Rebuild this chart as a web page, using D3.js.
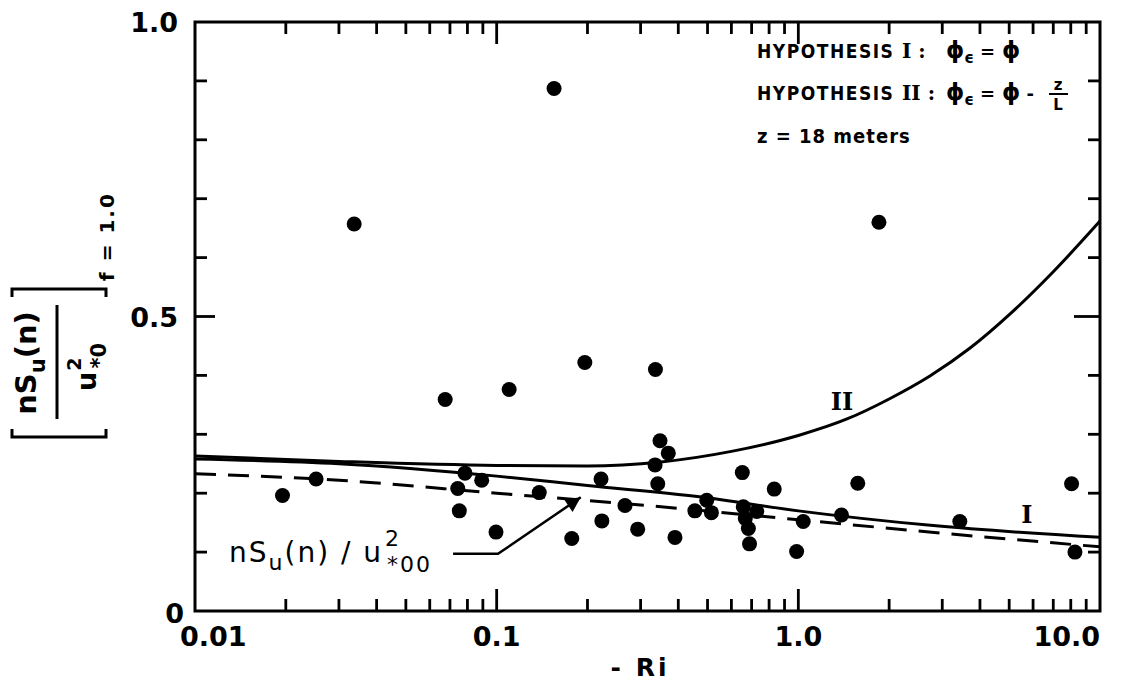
<!DOCTYPE html>
<html>
<head>
<meta charset="utf-8">
<title>Spectral estimate vs -Ri</title>
<script src="https://cdn.jsdelivr.net/npm/d3@7"></script>
<style>
    body { margin: 0; background: #fff; }
    text { font-family: "DejaVu Sans", sans-serif; fill: #000; }
    .bold { font-weight: bold; }
    .cond { font-family: "DejaVu Sans Condensed", "DejaVu Sans", sans-serif; font-weight: bold; }
    .roman { font-family: "DejaVu Serif", serif; font-weight: bold; }
</style>
</head>
<body>
<script>
var negRi = [0.0195, 0.0252, 0.0337, 0.0675, 0.0743, 0.0752, 0.0785, 0.0892, 0.0995, 0.110,
             0.1384, 0.155, 0.1774, 0.196, 0.2218, 0.2232, 0.2663, 0.2934, 0.336, 0.335,
             0.342, 0.3479, 0.3706, 0.390, 0.454, 0.497, 0.515, 0.652, 0.657, 0.667,
             0.683, 0.689, 0.728, 0.832, 0.987, 1.038, 1.39, 1.574, 1.85, 3.43,
             8.05, 8.26];
var specVal = [0.196, 0.224, 0.657, 0.359, 0.208, 0.170, 0.234, 0.222, 0.134, 0.376,
               0.201, 0.887, 0.123, 0.422, 0.224, 0.153, 0.179, 0.139, 0.410, 0.248,
               0.216, 0.289, 0.268, 0.125, 0.170, 0.188, 0.167, 0.235, 0.177, 0.157,
               0.140, 0.114, 0.169, 0.207, 0.101, 0.152, 0.163, 0.217, 0.660, 0.152,
               0.216, 0.100];

// hypothesis I curve
var hypIx = [0.01, 0.03, 0.1, 0.2, 0.47, 1.0, 2.8, 10];
var hypIy = [0.258, 0.250, 0.229, 0.213, 0.194, 0.170, 0.145, 0.125];
// hypothesis II curve
var hypIIx = [0.01, 0.03, 0.1, 0.2, 0.35, 0.6, 1.0, 1.45, 2.0, 2.73, 3.7, 5.1, 7.0, 10];
var hypIIy = [0.263, 0.254, 0.247, 0.246, 0.253, 0.271, 0.298, 0.326, 0.360, 0.399, 0.446, 0.507, 0.576, 0.662];
// dashed reference nSu(n)/u*00^2
var refX = [0.01, 0.03, 0.1, 0.3, 1.0, 3.0, 10];
var refY = [0.233, 0.222, 0.200, 0.180, 0.155, 0.132, 0.109];

var xTickVals = [0.01, 0.1, 1, 10];
var xTickLabels = ['0.01', '0.1', '1.0', '10.0'];
var yTickVals = [0, 0.5, 1];
var yTickLabels = ['0', '0.5', '1.0'];

var svg = d3.select('body').append('svg').attr('width', 1129).attr('height', 681);

var x = d3.scaleLog().domain([0.01, 10]).range([195, 1100]);
var y = d3.scaleLinear().domain([0, 1]).range([611, 22]);

function isInner(v) { return Math.abs(v - 0.1) < 1e-9 || Math.abs(v - 1) < 1e-9; }

var x0 = x.range()[0], x1 = x.range()[1], yb = y.range()[0], yt = y.range()[1];

// frame
svg.append('rect')
    .attr('x', x0).attr('y', yt)
    .attr('width', x1 - x0).attr('height', yb - yt)
    .attr('fill', 'none').attr('stroke', 'black').attr('stroke-width', 3);

// log ticks on bottom and top, pointing inward (2..9 in every decade plus 0.1 and 1)
var logTicks = x.ticks().filter(function (v) { return v > 0.0101 && v < 9.99; });
var tg = svg.append('g').attr('stroke', 'black').attr('stroke-width', 2.8);
tg.selectAll('line.bt').data(logTicks).enter().append('line').attr('class', 'bt')
    .attr('x1', function (d) { return x(d); }).attr('x2', function (d) { return x(d); })
    .attr('y1', yb).attr('y2', function (d) { return yb - (isInner(d) ? 22 : 12); });
tg.selectAll('line.tt').data(logTicks).enter().append('line').attr('class', 'tt')
    .attr('x1', function (d) { return x(d); }).attr('x2', function (d) { return x(d); })
    .attr('y1', yt).attr('y2', function (d) { return yt + (isInner(d) ? 22 : 12); });
var yTicks = y.ticks(10).filter(function (v) { return v > 0.01 && v < 0.99; });
tg.selectAll('line.lt').data(yTicks).enter().append('line').attr('class', 'lt')
    .attr('x1', x0).attr('x2', function (d) { return x0 + (Math.abs(d - 0.5) < 0.01 ? 20 : 12); })
    .attr('y1', function (d) { return y(d); }).attr('y2', function (d) { return y(d); });
tg.selectAll('line.rt').data(yTicks).enter().append('line').attr('class', 'rt')
    .attr('x1', x1).attr('x2', function (d) { return x1 - (Math.abs(d - 0.5) < 0.01 ? 26 : 12); })
    .attr('y1', function (d) { return y(d); }).attr('y2', function (d) { return y(d); });

// tick labels
svg.selectAll('.xlab').data(xTickVals).enter().append('text')
    .attr('class', 'xlab bold')
    .attr('x', function (d, i) { return x(d) + (i === 0 ? -15 : 0); })
    .attr('y', 646)
    .attr('text-anchor', function (d, i) { return i === 0 ? 'start' : (i === xTickVals.length - 1 ? 'end' : 'middle'); })
    .attr('font-size', '27px')
    .text(function (d, i) { return xTickLabels[i]; });

svg.selectAll('.ylab').data(yTickVals).enter().append('text')
    .attr('class', 'ylab bold')
    .attr('x', function (d) { return d === 0 ? 184 : 178; })
    .attr('y', function (d) { return y(d) + (d === 0 ? 12 : 10); })
    .attr('text-anchor', 'end')
    .attr('font-size', '27px')
    .text(function (d, i) { return yTickLabels[i]; });

svg.append('text').attr('class', 'bold')
    .attr('x', 640).attr('y', 676).attr('text-anchor', 'middle')
    .attr('font-size', '25px').attr('letter-spacing', '3px')
    .text('- Ri');

// curves
var line = d3.line()
    .x(function (d) { return x(d[0]); })
    .y(function (d) { return y(d[1]); })
    .curve(d3.curveMonotoneX);

svg.append('path').datum(d3.zip(hypIx, hypIy))
    .attr('d', line).attr('fill', 'none').attr('stroke', 'black').attr('stroke-width', 3);
svg.append('path').datum(d3.zip(hypIIx, hypIIy))
    .attr('d', line).attr('fill', 'none').attr('stroke', 'black').attr('stroke-width', 3);
svg.append('path').datum(d3.zip(refX, refY))
    .attr('d', line).attr('fill', 'none').attr('stroke', 'black').attr('stroke-width', 3)
    .attr('stroke-dasharray', '21,12');

// points
svg.append('g').selectAll('circle')
    .data(d3.zip(negRi, specVal))
    .enter().append('circle')
    .attr('cx', function (d) { return x(d[0]); })
    .attr('cy', function (d) { return y(d[1]); })
    .attr('r', 7.5)
    .attr('fill', 'black');

// curve labels
svg.append('text').attr('class', 'roman')
    .attr('x', x(1.395)).attr('y', y(0.341)).attr('text-anchor', 'middle')
    .attr('font-size', '24px').text('II');
svg.append('text').attr('class', 'roman')
    .attr('x', x(5.72)).attr('y', y(0.150)).attr('text-anchor', 'middle')
    .attr('font-size', '24px').text('I');

// arrow pointing at the dashed curve
svg.append('defs').append('marker')
    .attr('id', 'head').attr('viewBox', '0 0 10 10')
    .attr('refX', 10).attr('refY', 5)
    .attr('markerWidth', 10).attr('markerHeight', 6)
    .attr('markerUnits', 'strokeWidth').attr('orient', 'auto')
    .append('path').attr('d', 'M0,0 L10,5 L0,10 z').attr('fill', 'black');

svg.append('path')
    .datum([[0.0717, 0.097], [0.101, 0.097], [0.19, 0.193]])
    .attr('d', d3.line().x(function (d) { return x(d[0]); }).y(function (d) { return y(d[1]); }))
    .attr('fill', 'none').attr('stroke', 'black').attr('stroke-width', 2.5)
    .attr('marker-end', 'url(#head)');

var ann = svg.append('text').attr('x', 229).attr('y', 562)
    .attr('font-size', '28px').attr('letter-spacing', '2px');
ann.append('tspan').text('nS');
ann.append('tspan').attr('font-size', '22px').attr('dy', 8).text('u');
ann.append('tspan').attr('dy', -8).text('(n) / u');
ann.append('tspan').attr('font-size', '22px').attr('dy', -16).attr('dx', 2).text('2');
ann.append('tspan').attr('font-size', '22px').attr('dy', 26).attr('dx', -14).text('*00');

// hypothesis legend
function hypLine(yy, roman, withFrac) {
    svg.append('text').attr('class', 'cond').attr('x', 757).attr('y', yy)
        .attr('font-size', '19px').attr('letter-spacing', '1.5px').text('HYPOTHESIS');
    svg.append('text').attr('class', 'roman').attr('x', 902).attr('y', yy)
        .attr('font-size', '20px').text(roman + ' :');
    var t = svg.append('text').attr('class', 'bold').attr('x', 946).attr('y', yy)
        .attr('font-size', '23px');
    t.append('tspan').text('ϕ');
    t.append('tspan').attr('font-size', '15px').attr('dy', 5).text('ϵ');
    t.append('tspan').attr('font-size', '18px').attr('dy', -5).attr('dx', 6).text('=');
    t.append('tspan').attr('dx', 7).text('ϕ');
    if (withFrac) {
        t.append('tspan').attr('dx', 6).attr('font-size', '18px').text('-');
        svg.append('text').attr('class', 'bold').attr('x', 1058).attr('y', yy - 10)
            .attr('text-anchor', 'middle').attr('font-size', '15px').text('z');
        svg.append('line').attr('x1', 1049).attr('x2', 1068).attr('y1', yy - 6).attr('y2', yy - 6)
            .attr('stroke', 'black').attr('stroke-width', 2);
        svg.append('text').attr('class', 'bold').attr('x', 1058).attr('y', yy + 10)
            .attr('text-anchor', 'middle').attr('font-size', '15px').text('L');
    }
}
hypLine(58, 'I', false);
hypLine(100, 'II', true);

svg.append('text').attr('class', 'cond').attr('x', 757).attr('y', 143)
    .attr('font-size', '20px').attr('letter-spacing', '1px')
    .text('z  =  18 meters');

// y axis label, rotated
var yl = svg.append('g').attr('transform', 'translate(0,363) rotate(-90)');
yl.append('path')
    .attr('d', 'M-66,106 L-74,106 L-74,12 L-66,12 M66,106 L74,106 L74,12 L66,12')
    .attr('fill', 'none').attr('stroke', 'black').attr('stroke-width', 3);
var num = yl.append('text').attr('class', 'bold').attr('x', 0).attr('y', 36)
    .attr('text-anchor', 'middle').attr('font-size', '29px');
num.append('tspan').text('nS');
num.append('tspan').attr('font-size', '21px').attr('dy', 9).text('u');
num.append('tspan').attr('dy', -9).text('(n)');
yl.append('line').attr('x1', -56).attr('x2', 58).attr('y1', 57).attr('y2', 57)
    .attr('stroke', 'black').attr('stroke-width', 3);
var den = yl.append('text').attr('class', 'bold').attr('x', -4).attr('y', 96)
    .attr('text-anchor', 'middle').attr('font-size', '27px');
den.append('tspan').text('u');
den.append('tspan').attr('font-size', '19px').attr('dy', -15).attr('dx', 1).text('2');
den.append('tspan').attr('font-size', '21px').attr('dy', 25).attr('dx', -11).text('*0');
yl.append('text').attr('class', 'bold').attr('x', 82).attr('y', 114)
    .attr('font-size', '20px').attr('letter-spacing', '2px')
    .text('f = 1.0');
</script>
</body>
</html>
